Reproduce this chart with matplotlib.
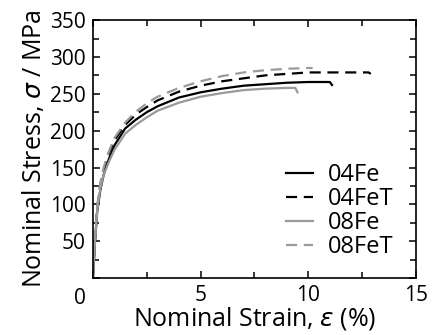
import matplotlib.pyplot as plt
from matplotlib.ticker import MultipleLocator, FuncFormatter

plt.rcParams['font.family'] = ['Open Sans', 'DejaVu Sans']
plt.rcParams['mathtext.fontset'] = 'dejavusans'

# strain (%) / stress (MPa)
strain_04fe = [0, 0.1, 0.2, 0.35, 0.5, 0.75, 1.0, 1.5, 2, 2.5, 3, 4, 5, 6, 7, 8, 9, 10, 11, 11.1]
stress_04fe = [0, 50, 90, 120, 140, 162, 180, 203, 215, 225, 233, 245, 252, 257, 261, 263, 265, 266, 266, 262]

strain_04fet = [0, 0.1, 0.2, 0.35, 0.5, 0.75, 1.0, 1.5, 2, 2.5, 3, 4, 5, 6, 7, 8, 9, 10, 11, 12, 12.8, 12.9]
stress_04fet = [0, 52, 95, 127, 147, 170, 187, 208, 222, 232, 241, 253, 261, 267, 271, 275, 277, 279, 279, 279, 279, 277]

strain_08fe = [0, 0.1, 0.2, 0.35, 0.5, 0.75, 1.0, 1.5, 2, 2.5, 3, 4, 5, 6, 7, 8, 9, 9.4, 9.5]
stress_08fe = [0, 50, 92, 122, 140, 158, 174, 196, 208, 218, 227, 238, 246, 251, 255, 257, 258, 258, 252]

strain_08fet = [0, 0.1, 0.2, 0.35, 0.5, 0.75, 1.0, 1.5, 2, 2.5, 3, 4, 5, 6, 7, 8, 9, 10, 10.2]
stress_08fet = [0, 55, 98, 130, 150, 172, 190, 211, 226, 237, 246, 258, 267, 274, 279, 282, 284, 285, 285]

fig = plt.figure(figsize=(4.32, 3.35), dpi=100)
ax = fig.add_axes([0.215, 0.170, 0.748, 0.770])

dash = (0, (5, 3))
ax.plot(strain_04fe, stress_04fe, color='black', lw=1.6, label='04Fe')
ax.plot(strain_04fet, stress_04fet, color='black', lw=1.6, ls=dash, label='04FeT')
ax.plot(strain_08fe, stress_08fe, color='#9a9a9a', lw=1.6, label='08Fe')
ax.plot(strain_08fet, stress_08fet, color='#9a9a9a', lw=1.6, ls=dash, label='08FeT')

ax.set_xlim(0, 15)
ax.set_ylim(0, 350)
ax.xaxis.set_major_locator(MultipleLocator(5))
ax.xaxis.set_minor_locator(MultipleLocator(2.5))
ax.yaxis.set_major_locator(MultipleLocator(50))
ax.yaxis.set_minor_locator(MultipleLocator(25))
# the shared origin "0" is drawn once, below-left of the corner
no_zero = FuncFormatter(lambda v, p: '' if v == 0 else f'{v:g}')
ax.xaxis.set_major_formatter(no_zero)
ax.yaxis.set_major_formatter(no_zero)
ax.tick_params(which='both', direction='in', top=True, right=True, width=1.1,
               labelsize=15, pad=5)
ax.tick_params(which='major', length=5)
ax.tick_params(which='minor', length=4)
for s in ax.spines.values():
    s.set_linewidth(1.2)

ax.annotate('0', xy=(0, 0), xycoords='axes fraction', xytext=(-9.5, -7),
            textcoords='offset points', ha='center', va='top', fontsize=15)

ax.set_xlabel(r'Nominal Strain, $\varepsilon$ (%)', fontsize=18, labelpad=-1)
ax.set_ylabel(r'Nominal Stress, $\sigma$ / MPa', fontsize=18, labelpad=2)

ax.legend(loc='lower right', bbox_to_anchor=(0.988, 0.0), frameon=False,
          fontsize=17, handlelength=1.15, labelspacing=0.0, handletextpad=0.6,
          borderaxespad=0.4)

fig.savefig('out.png', dpi=100)
